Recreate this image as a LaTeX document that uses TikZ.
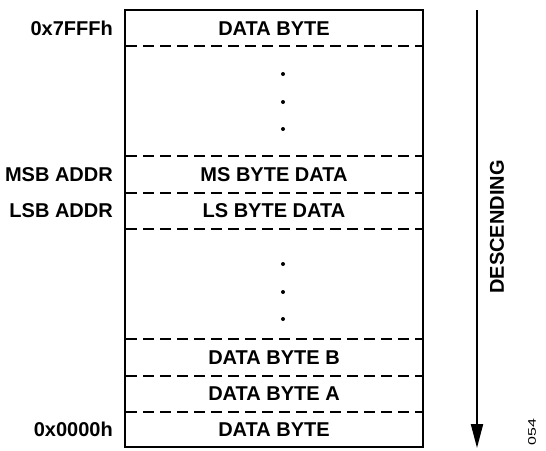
\documentclass[tikz,border=0pt]{standalone}
\usepackage{fontspec}
\setmainfont{Liberation Sans}
\usetikzlibrary{arrows.meta}
\begin{document}
\begin{tikzpicture}[x=1pt,y=-1pt,
  lbl/.style={font=\fontsize{20}{22}\selectfont\bfseries, inner sep=0pt},
  addr/.style={lbl, anchor=east},
  sep/.style={line width=2pt, dash pattern=on 11pt off 6pt},
  dotmark/.style={circle, fill=black, inner sep=0pt, minimum size=4pt}]
\useasboundingbox (0,0) rectangle (546,450);
% frame
\draw[line width=2pt] (125,10) rectangle (423,447);
% separators
\foreach \yy in {46,156,193,229,339,376,412}
  \draw[sep] (126,\yy) -- (422,\yy);
% row texts
\node[lbl] (r1) at (274,28.5) {DATA BYTE};
\node[lbl] (r2) at (274,174.5) {MS BYTE DATA};
\node[lbl] (r3) at (274,211) {LS BYTE DATA};
\node[lbl] (r4) at (274,357.5) {DATA BYTE B};
\node[lbl] (r5) at (274,394) {DATA BYTE A};
\node[lbl] (r6) at (274,429.5) {DATA BYTE};
% dots
\foreach \yy [count=\i] in {74,102,129,264,292,319}
  \node[dotmark] (d\i) at (283,\yy) {};
% addresses
\node[addr] (a1) at (113,28.5) {0x7FFFh};
\node[addr] (a2) at (113,174.5) {MSB ADDR};
\node[addr] (a3) at (113,211) {LSB ADDR};
\node[addr] (a4) at (113,429.5) {0x0000h};
% arrow
\coordinate (atop) at (477,10);
\coordinate (abot) at (477,448);
\draw[line width=2pt, -{Triangle[length=24pt,width=12pt]}] (atop) -- (abot);
\node[lbl, rotate=90] (desc) at (497,227) {DESCENDING};
\node[inner sep=0pt, rotate=90, font=\fontsize{11}{12}\selectfont] (fig) at (532,432) {\scalebox{1.45}[1]{054}};
\end{tikzpicture}
\end{document}
